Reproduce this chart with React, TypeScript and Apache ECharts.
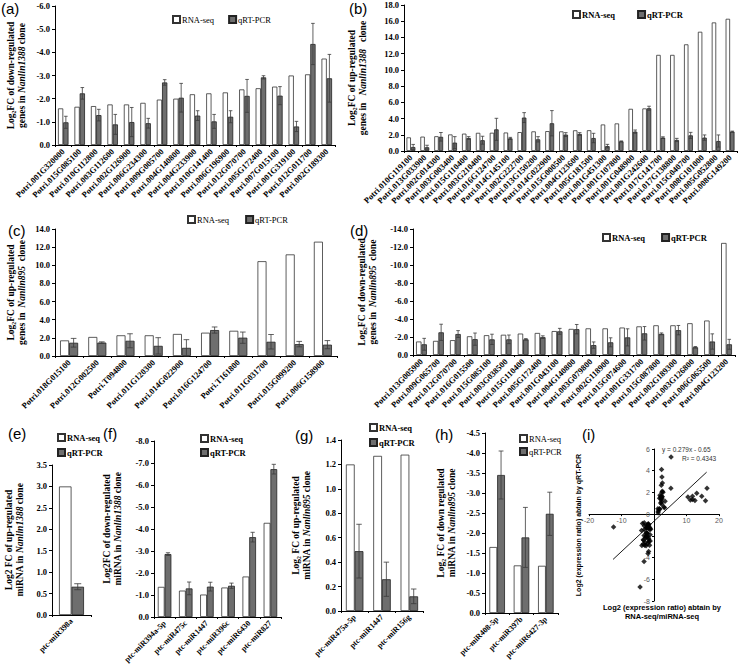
import React, { useEffect, useRef } from "react";
import * as echarts from "echarts";

// ---------- (a) down-regulated genes, Nanlin1388 ----------
const aCategories = ["Potri.001G320000", "Potri.015G085100", "Potri.010G112800", "Potri.003G112600", "Potri.002G126900", "Potri.006G234300", "Potri.009G005700", "Potri.004G140800", "Potri.004G233900", "Potri.010G141400", "Potri.006G196900", "Potri.012G070700", "Potri.005G172400", "Potri.007G015100", "Potri.001G319100", "Potri.012G011700", "Potri.002G189300"];
const aRnaSeq = [1.58, 1.65, 1.68, 1.75, 1.75, 1.82, 1.96, 2.0, 2.19, 2.23, 2.27, 2.4, 2.45, 2.52, 3.0, 3.05, 3.73];
const aQrtPcr = [0.98, 2.23, 1.29, 0.89, 0.99, 0.94, 2.7, 2.04, 1.27, 1.02, 1.22, 2.12, 2.92, 2.13, 0.8, 4.36, 2.88];
const aQrtErr = [0.26, 0.25, 0.25, 0.43, 0.63, 0.21, 0.12, 0.62, 0.21, 0.3, 0.26, 0.71, 0.07, 0.39, 0.22, 0.89, 1.03];

// ---------- (b) up-regulated genes, Nanlin1388 ----------
const bCategories = ["Potri.010G119100", "Potri.013G033900", "Potri.002G014300", "Potri.003G003400", "Potri.015G110400", "Potri.003G210400", "Potri.016G124700", "Potri.014G145100", "Potri.002G222700", "Potri.013G150200", "Potri.014G022900", "Potri.015G000500", "Potri.004G123600", "Potri.005G181500", "Potri.001G451300", "Potri.001G107800", "Potri.001G048900", "Potri.001G242600", "Potri.017G141700", "Potri.017G138800", "Potri.015G040700", "Potri.008G101000", "Potri.005G052800", "Potri.008G149200"];
const bRnaSeq = [1.68, 1.77, 1.82, 2.04, 2.14, 2.24, 2.25, 2.28, 2.33, 2.42, 2.45, 2.42, 2.55, 2.56, 3.27, 3.4, 5.2, 5.25, 11.85, 11.85, 13.15, 14.7, 15.85, 16.3];
const bQrtPcr = [0.49, 0.46, 1.75, 1.03, 1.6, 1.33, 2.67, 1.56, 4.12, 1.44, 3.42, 2.02, 2.1, 1.6, 0.6, 1.19, 2.39, 5.27, 1.65, 1.36, 1.93, 1.65, 1.23, 2.39];
const bQrtErr = [0.32, 0.25, 0.53, 0.74, 0.17, 0.49, 1.36, 0.12, 0.61, 0.33, 1.56, 0.24, 0.16, 0.58, 0.22, 0.05, 0.2, 0.25, 0.1, 0.2, 0.37, 0.33, 0.75, 0.06];

// ---------- (c) up-regulated genes, Nanlin895 ----------
const cCategories = ["Potri.018G015100", "Potri.012G002500", "Potri.T094800", "Potri.011G120300", "Potri.014G022900", "Potri.016G124700", "Potri.T161800", "Potri.011G031700", "Potri.015G099200", "Potri.006G158900"];
const cRnaSeq = [1.72, 2.1, 2.28, 2.28, 2.43, 2.57, 2.78, 10.45, 11.2, 12.6];
const cQrtPcr = [1.46, 1.48, 1.68, 1.12, 0.9, 2.86, 2.02, 1.57, 1.31, 1.25];
const cQrtErr = [0.48, 0.08, 0.77, 0.9, 0.9, 0.34, 0.62, 0.8, 0.3, 0.45];

// ---------- (d) down-regulated genes, Nanlin895 ----------
const dCategories = ["Potri.013G005900", "Potri.009G065700", "Potri.012G070700", "Potri.016G015500", "Potri.015G085100", "Potri.003G038500", "Potri.015G110400", "Potri.005G172400", "Potri.001G043100", "Potri.004G140800", "Potri.003G079800", "Potri.002G118900", "Potri.015G074600", "Potri.001G331700", "Potri.015G087800", "Potri.002G189300", "Potri.003G126800", "Potri.006G065500", "Potri.004G123200"];
const dRnaSeq = [1.5, 1.57, 1.65, 2.08, 2.2, 2.25, 2.38, 2.45, 2.66, 2.9, 2.96, 2.96, 3.05, 3.18, 3.3, 3.3, 3.53, 3.83, 12.45];
const dQrtPcr = [1.19, 2.52, 2.33, 1.76, 1.74, 1.74, 1.74, 1.98, 2.63, 2.87, 1.1, 1.41, 1.96, 2.41, 2.35, 2.76, 0.86, 1.5, 1.19];
const dQrtErr = [0.66, 0.9, 0.38, 0.68, 0.57, 0.48, 0.08, 0.15, 0.33, 0.52, 0.35, 0.5, 0.95, 0.75, 0.1, 0.52, 0.08, 0.85, 0.55];

// ---------- (e) up-regulated miRNA, Nanlin1388 ----------
const eCategories = ["ptc-miR398a"];
const eRnaSeq = [3.0];
const eQrtPcr = [0.66];
const eQrtErr = [0.07];

// ---------- (f) down-regulated miRNA, Nanlin1388 ----------
const fCategories = ["ptc-miR394a-5p", "ptc-miR475c", "ptc-miR1447", "ptc-miR396c", "ptc-miR6430", "ptc-miR827"];
const fRnaSeq = [1.37, 1.2, 1.02, 1.34, 1.84, 4.28];
const fQrtPcr = [2.86, 1.3, 1.38, 1.42, 3.63, 6.72];
const fQrtErr = [0.06, 0.29, 0.2, 0.12, 0.22, 0.22];

// ---------- (g) up-regulated miRNA, Nanlin895 ----------
const gCategories = ["ptc-miR475a-5p", "ptc-miR1447", "ptc-miR156g"];
const gRnaSeq = [1.2, 1.27, 1.28];
const gQrtPcr = [0.49, 0.26, 0.12];
const gQrtErr = [0.22, 0.14, 0.06];

// ---------- (h) down regulated miRNA, Nanlin895 ----------
const hCategories = ["ptc-miR408-5p", "ptc-miR397b", "ptc-miR6427-3p"];
const hRnaSeq = [1.65, 1.19, 1.18];
const hQrtPcr = [3.45, 1.89, 2.48];
const hQrtErr = [0.6, 0.75, 0.54];

// ---------- (i) regression ----------
const iXTicks = { min: -20, max: 20, interval: 10 };
const iYTicks = { min: -8, max: 6, interval: 2 };
const trendLine = [[-12.6, -4.17], [16.2, 3.87]];
const equationText = "y = 0.279x - 0.65";
const r2Text = "R² = 0.4343";

const SERIF = '"Liberation Serif", "Times New Roman", serif';
const SANS = '"Liberation Sans", Arial, sans-serif';

type Panel = {
  letter: string;
  cats: string[];
  rna: number[];
  qrt: number[];
  err: number[];
  sign: number;
  min: number;
  max: number;
  interval: number;
  title: string;
  grid: { left: number; top: number; width: number; height: number };
  nameGap: number;
  labelSize: number;
  legend: { left: number; top: number; orient: string; itemGap: number; bold: boolean };
};

const panels: Panel[] = [
  {
    letter: "a", cats: aCategories, rna: aRnaSeq, qrt: aQrtPcr, err: aQrtErr, sign: -1, min: -6, max: 0, interval: 1,
    title: "Log₂FC of down-regulated\ngenes in {i|Nanlin1388} clone",
    grid: { left: 55, top: 6, width: 280, height: 139 }, nameGap: 28, labelSize: 8.5,
    legend: { left: 167, top: 10, orient: "horizontal", itemGap: 14, bold: false },
  },
  {
    letter: "b", cats: bCategories, rna: bRnaSeq, qrt: bQrtPcr, err: bQrtErr, sign: 1, min: 0, max: 18, interval: 2,
    title: "Log₂FC of up-regulated\ngenes in   {i|Nanlin1388}   clone",
    grid: { left: 404, top: 5, width: 333, height: 146 }, nameGap: 36, labelSize: 8.5,
    legend: { left: 567, top: 5, orient: "horizontal", itemGap: 22, bold: true },
  },
  {
    letter: "c", cats: cCategories, rna: cRnaSeq, qrt: cQrtPcr, err: cQrtErr, sign: 1, min: 0, max: 14, interval: 2,
    title: "Log₂FC of up-regulated\ngenes in  {i|Nanlin895}  clone",
    grid: { left: 55, top: 229, width: 282, height: 127 }, nameGap: 28, labelSize: 8.5,
    legend: { left: 182, top: 210, orient: "horizontal", itemGap: 16, bold: false },
  },
  {
    letter: "d", cats: dCategories, rna: dRnaSeq, qrt: dQrtPcr, err: dQrtErr, sign: -1, min: -14, max: 0, interval: 2,
    title: "Log₂FC of down-regulated\ngenes in  {i|Nanlin895}  clone",
    grid: { left: 413, top: 229, width: 322, height: 126 }, nameGap: 35, labelSize: 8.5,
    legend: { left: 597, top: 228, orient: "horizontal", itemGap: 16, bold: true },
  },
  {
    letter: "e", cats: eCategories, rna: eRnaSeq, qrt: eQrtPcr, err: eQrtErr, sign: 1, min: 0, max: 3.5, interval: 0.5,
    title: "Log2 FC of up-regulated\nmiRNA in {i|Nanlin1388} clone",
    grid: { left: 52, top: 465, width: 39, height: 150 }, nameGap: 27, labelSize: 8,
    legend: { left: 52, top: 428, orient: "vertical", itemGap: 6, bold: true },
  },
  {
    letter: "f", cats: fCategories, rna: fRnaSeq, qrt: fQrtPcr, err: fQrtErr, sign: -1, min: -8, max: 0, interval: 1,
    title: "Log2FC of down-regulated\nmiRNA in {i|Nanlin1388} clone",
    grid: { left: 154, top: 441, width: 127, height: 176 }, nameGap: 31, labelSize: 8,
    legend: { left: 195, top: 429, orient: "vertical", itemGap: 5, bold: true },
  },
  {
    letter: "g", cats: gCategories, rna: gRnaSeq, qrt: gQrtPcr, err: gQrtErr, sign: 1, min: 0, max: 1.4, interval: 0.2,
    title: "Log₂ FC of up-regulated\nmiRNA in {i|Nanlin895} clone",
    grid: { left: 341, top: 440, width: 82, height: 171 }, nameGap: 29, labelSize: 8,
    legend: { left: 364, top: 418, orient: "vertical", itemGap: 6, bold: true },
  },
  {
    letter: "h", cats: hCategories, rna: hRnaSeq, qrt: hQrtPcr, err: hQrtErr, sign: -1, min: -4.5, max: 0, interval: 0.5,
    title: "Log₂ FC of down regulated\nmiRNA in {i|Nanlin895} clone",
    grid: { left: 485, top: 433, width: 73, height: 180 }, nameGap: 28, labelSize: 8,
    legend: { left: 514, top: 429, orient: "vertical", itemGap: 4, bold: false },
  },
];

const letterPos: Record<string, [number, number]> = {
  a: [1, 1], b: [349, 1], c: [8, 223], d: [350, 223], e: [8, 426], f: [103, 426], g: [295, 428], h: [435, 427], i: [582, 427],
};

function errorRender(params: any, api: any) {
  const i = api.value(0);
  const v = api.value(1);
  const e = api.value(2);
  const band = api.size([1, 0])[0];
  const cx = api.coord([i, v])[0] + band * 0.16;
  const y1 = api.coord([i, v + e])[1];
  const y2 = api.coord([i, v - e])[1];
  const cap = Math.max(1.8, Math.min(3.5, band * 0.1));
  const style = { stroke: "#3a3a3a", lineWidth: 0.8, fill: null };
  return {
    type: "group",
    children: [
      { type: "line", shape: { x1: cx, y1, x2: cx, y2 }, style },
      { type: "line", shape: { x1: cx - cap, y1, x2: cx + cap, y2: y1 }, style },
      { type: "line", shape: { x1: cx - cap, y1: y2, x2: cx + cap, y2 }, style },
    ],
  };
}

function buildOption() {
  const grid: any[] = [];
  const xAxis: any[] = [];
  const yAxis: any[] = [];
  const series: any[] = [];
  const legend: any[] = [];
  const graphic: any[] = [];

  panels.forEach((p, k) => {
    grid.push({ ...p.grid, containLabel: false });
    xAxis.push({
      type: "category",
      gridIndex: k,
      data: p.cats,
      axisLine: { onZero: false, lineStyle: { color: "#000", width: 1 } },
      axisTick: { show: true, length: 2, lineStyle: { color: "#000" } },
      axisLabel: { rotate: 45, interval: 0, fontFamily: SERIF, fontWeight: "bold", fontSize: p.labelSize, color: "#000", margin: 5 },
      splitLine: { show: false },
    });
    yAxis.push({
      type: "value",
      gridIndex: k,
      min: p.min,
      max: p.max,
      interval: p.interval,
      inverse: p.sign < 0,
      axisLine: { show: true, lineStyle: { color: "#000", width: 1 } },
      axisTick: { show: true, length: 3, lineStyle: { color: "#000" } },
      splitLine: { show: false },
      axisLabel: {
        formatter: (v: number) => v.toFixed(1),
        fontFamily: SERIF, fontWeight: "bold", fontSize: 8.5, color: "#000", margin: 5,
      },
      name: p.title,
      nameLocation: "middle",
      nameRotate: 90,
      nameGap: p.nameGap,
      nameTextStyle: {
        fontFamily: SERIF, fontWeight: "bold", fontSize: 9.5, color: "#000", lineHeight: 11,
        rich: { i: { fontFamily: SERIF, fontWeight: "bold", fontStyle: "italic", fontSize: 9.5, color: "#000", lineHeight: 11 } },
      },
    });
    series.push({
      type: "bar", name: "RNA-seq", xAxisIndex: k, yAxisIndex: k,
      data: p.rna.map((v) => p.sign * v),
      barGap: "0%", barCategoryGap: "36%",
      itemStyle: { color: "#ffffff", borderColor: "#333", borderWidth: 0.8 },
      z: 2,
    });
    series.push({
      type: "bar", name: "qRT-PCR", xAxisIndex: k, yAxisIndex: k,
      data: p.qrt.map((v) => p.sign * v),
      barGap: "0%", barCategoryGap: "36%",
      itemStyle: { color: "#6e6e6e", borderColor: "#222", borderWidth: 0.8 },
      z: 2,
    });
    series.push({
      type: "custom", name: "error", xAxisIndex: k, yAxisIndex: k,
      renderItem: errorRender,
      encode: { x: 0, y: 1 },
      data: p.qrt.map((v, i) => [i, p.sign * v, p.err[i]]),
      z: 4, clip: false, silent: true,
    });
    legend.push({
      data: ["RNA-seq", "qRT-PCR"],
      left: p.legend.left, top: p.legend.top, orient: p.legend.orient,
      itemWidth: 7, itemHeight: 7, itemGap: p.legend.itemGap, icon: "rect", selectedMode: false,
      textStyle: { fontFamily: SERIF, fontSize: 8.5, fontWeight: p.legend.bold ? "bold" : "normal", color: "#000", padding: [0, 0, 0, -3] },
    });
  });

  // panel (i): axes cross at the origin (moved inward with offsets)
  const gi = panels.length;
  const iGrid = { left: 589, top: 449, width: 130, height: 152 };
  grid.push({ ...iGrid, containLabel: false });
  const yZeroPx = iGrid.top + (iYTicks.max / (iYTicks.max - iYTicks.min)) * iGrid.height;
  const xZeroPx = iGrid.left + ((0 - iXTicks.min) / (iXTicks.max - iXTicks.min)) * iGrid.width;
  xAxis.push({
    type: "value", gridIndex: gi, min: iXTicks.min, max: iXTicks.max, interval: iXTicks.interval,
    position: "bottom",
    offset: -(iGrid.top + iGrid.height - yZeroPx),
    axisLine: { onZero: false, lineStyle: { color: "#000", width: 1 } },
    axisTick: { show: true, length: 2, lineStyle: { color: "#000" } },
    axisLabel: { fontFamily: SANS, fontSize: 7, color: "#595959", margin: 3, formatter: (v: number) => (v === 0 ? "" : String(v)) },
    splitLine: { show: false },
  });
  yAxis.push({
    type: "value", gridIndex: gi, min: iYTicks.min, max: iYTicks.max, interval: iYTicks.interval,
    position: "left",
    offset: -(xZeroPx - iGrid.left),
    axisLine: { onZero: false, lineStyle: { color: "#000", width: 1 } },
    axisTick: { show: true, length: 2, lineStyle: { color: "#000" } },
    axisLabel: { fontFamily: SANS, fontSize: 7, color: "#595959", margin: 4 },
    splitLine: { show: false },
  });
  const scatterData = panels.flatMap((p) => p.rna.map((v, i) => [p.sign * v, p.sign * p.qrt[i]]));
  series.push({
    type: "scatter", name: "points", xAxisIndex: gi, yAxisIndex: gi,
    data: scatterData, symbol: "diamond", symbolSize: 5.5,
    itemStyle: { color: "#000" }, z: 3,
  });
  series.push({
    type: "line", name: "trend", xAxisIndex: gi, yAxisIndex: gi,
    data: trendLine, showSymbol: false, symbol: "none",
    lineStyle: { color: "#000", width: 0.9 }, z: 2,
  });

  Object.keys(letterPos).forEach((l) => {
    graphic.push({
      type: "text", left: letterPos[l][0], top: letterPos[l][1],
      style: { text: `(${l})`, fontFamily: SANS, fontSize: 15, fill: "#000" },
    });
  });
  graphic.push({
    type: "text", x: 662, y: 449,
    style: { text: equationText, fontFamily: SANS, fontSize: 6.5, fill: "#333", align: "left", verticalAlign: "middle" },
  });
  graphic.push({
    type: "text", x: 682, y: 458,
    style: { text: r2Text, fontFamily: SANS, fontSize: 6.5, fill: "#333", align: "left", verticalAlign: "middle" },
  });
  graphic.push({
    type: "text", x: 662, y: 612,
    style: {
      text: "Log2 (expression ratio) abtain by\nRNA-seq/miRNA-seq",
      fontFamily: SANS, fontWeight: "bold", fontSize: 7.5, lineHeight: 9, fill: "#000", align: "center", verticalAlign: "middle",
    },
  });
  graphic.push({
    type: "text", x: 578, y: 525, rotation: Math.PI / 2,
    style: {
      text: "Log2 (expression ratio) abtain by qRT-PCR",
      fontFamily: SANS, fontWeight: "bold", fontSize: 7, fill: "#000", align: "center", verticalAlign: "middle",
    },
  });

  return {
    animation: false,
    backgroundColor: "#ffffff",
    grid, xAxis, yAxis, series, legend, graphic,
  };
}

export default function App() {
  const ref = useRef<HTMLDivElement>(null);
  useEffect(() => {
    if (!ref.current) return;
    const chart = echarts.init(ref.current, undefined, { renderer: "svg" });
    chart.setOption(buildOption() as any);
    return () => chart.dispose();
  }, []);
  return (
    <div
      ref={ref}
      style={{ position: "fixed", left: 0, top: 0, width: 740, height: 671, background: "#fff" }}
    />
  );
}
